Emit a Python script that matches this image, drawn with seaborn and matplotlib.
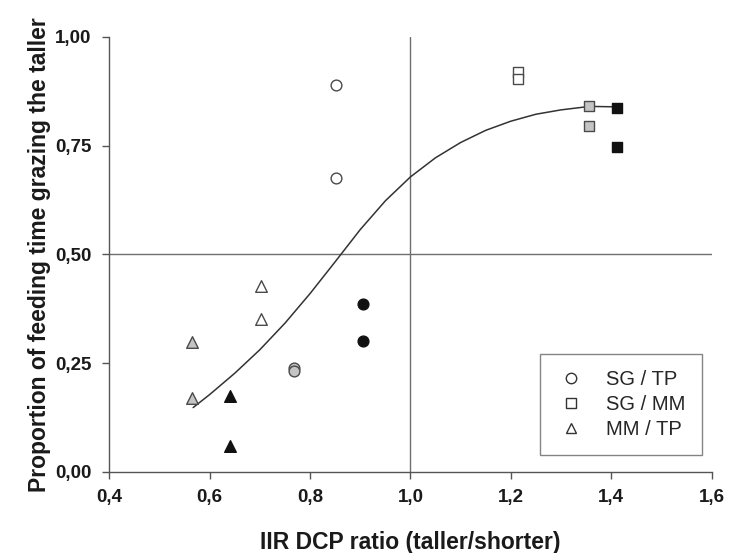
import matplotlib
matplotlib.use("Agg")
import matplotlib.pyplot as plt
import seaborn as sns
import pandas as pd
from matplotlib.lines import Line2D

# ---- data ----
pairs = ["SG / TP", "SG / MM", "MM / TP"]
pair_markers = {"SG / TP": "o", "SG / MM": "s", "MM / TP": "^"}

sgtp_x = [0.852, 0.852, 0.767, 0.767, 0.905, 0.905]
sgtp_y = [0.890, 0.676, 0.239, 0.231, 0.386, 0.301]
sgtp_fill = ["white", "white", "gray", "gray", "black", "black"]

sgmm_x = [1.215, 1.215, 1.356, 1.356, 1.411, 1.411]
sgmm_y = [0.920, 0.903, 0.840, 0.794, 0.837, 0.746]
sgmm_fill = ["white", "white", "gray", "gray", "black", "black"]

mmtp_x = [0.702, 0.702, 0.565, 0.565, 0.640, 0.640]
mmtp_y = [0.428, 0.352, 0.299, 0.171, 0.175, 0.060]
mmtp_fill = ["white", "white", "gray", "gray", "black", "black"]

# fitted curve
curve_x = [0.567, 0.600, 0.650, 0.700, 0.750, 0.800, 0.850, 0.900, 0.950, 1.000,
           1.050, 1.100, 1.150, 1.200, 1.250, 1.300, 1.357, 1.411]
curve_y = [0.148, 0.178, 0.227, 0.281, 0.342, 0.410, 0.483, 0.557, 0.623, 0.678,
           0.722, 0.757, 0.785, 0.806, 0.822, 0.832, 0.840, 0.839]

x_ticks = [0.4, 0.6, 0.8, 1.0, 1.2, 1.4, 1.6]
x_tick_labels = ["0,4", "0,6", "0,8", "1,0", "1,2", "1,4", "1,6"]
y_ticks = [0.0, 0.25, 0.5, 0.75, 1.0]
y_tick_labels = ["0,00", "0,25", "0,50", "0,75", "1,00"]

x_label = "IIR DCP ratio (taller/shorter)"
y_label = "Proportion of feeding time grazing the taller"

# ---- styling ----
fill_colors = {"white": "#ffffff", "gray": "#c4c4c4", "black": "#111111"}
edge_colors = {"white": "#4a4a4a", "gray": "#4a4a4a", "black": "#111111"}

sns.set_theme(style="white")
plt.rcParams["font.family"] = ["Liberation Sans", "DejaVu Sans"]

df = pd.concat([
    pd.DataFrame({"x": sgtp_x, "y": sgtp_y, "fill": sgtp_fill, "pair": "SG / TP"}),
    pd.DataFrame({"x": sgmm_x, "y": sgmm_y, "fill": sgmm_fill, "pair": "SG / MM"}),
    pd.DataFrame({"x": mmtp_x, "y": mmtp_y, "fill": mmtp_fill, "pair": "MM / TP"}),
], ignore_index=True)
curve = pd.DataFrame({"x": curve_x, "y": curve_y})

fig = plt.figure(figsize=(7.29, 5.53), dpi=100)
ax = fig.add_axes([0.150, 0.1465, 0.826, 0.787])

ax.axhline(0.5, color="#6e6e6e", lw=1.0, zorder=1)
ax.axvline(1.0, color="#6e6e6e", lw=1.0, zorder=1)

sns.lineplot(data=curve, x="x", y="y", ax=ax, color="#333333", lw=1.1,
             sort=False, zorder=2, legend=False, solid_joinstyle="round")

for (pair, fill), g in df.groupby(["pair", "fill"], sort=False):
    sns.scatterplot(data=g, x="x", y="y", ax=ax, marker=pair_markers[pair],
                    color=fill_colors[fill], edgecolor=edge_colors[fill],
                    linewidth=1.0, s=60 if pair_markers[pair] != "^" else 70,
                    zorder=3, legend=False)

ax.set_xlim(0.4, 1.6)
ax.set_ylim(0.0, 1.0)
ax.set_xticks(x_ticks)
ax.set_xticklabels(x_tick_labels)
ax.set_yticks(y_ticks)
ax.set_yticklabels(y_tick_labels)
for lab in ax.get_xticklabels() + ax.get_yticklabels():
    lab.set_fontweight("bold")
    lab.set_fontsize(13.5)
    lab.set_color("#1a1a1a")
ax.tick_params(axis="both", direction="out", length=5, width=1, color="#555555",
               bottom=True, left=True)
ax.tick_params(axis="y", pad=8)
ax.tick_params(axis="x", pad=7)

for side in ["top", "right"]:
    ax.spines[side].set_visible(False)
for side in ["left", "bottom"]:
    ax.spines[side].set_color("#555555")
    ax.spines[side].set_linewidth(1.0)

ax.set_xlabel(x_label, fontsize=16.5, fontweight="bold", color="#1a1a1a", labelpad=18)
ax.set_ylabel(y_label, fontsize=16.5, fontweight="bold", color="#1a1a1a", labelpad=3)

handles = [Line2D([], [], linestyle="none", marker=pair_markers[p], markersize=7.5,
                  markerfacecolor="white", markeredgecolor="#333333",
                  markeredgewidth=1.0) for p in pairs]
leg = ax.legend(handles, pairs, loc="lower left", bbox_to_anchor=(0.715, 0.039),
                frameon=True, fancybox=False, fontsize=14.5, handletextpad=1.0,
                borderpad=0.8, labelspacing=0.3, borderaxespad=0,
                handlelength=1.5)
leg.get_frame().set_edgecolor("#666666")
leg.get_frame().set_linewidth(1.0)

fig.savefig("out.png", dpi=100)
